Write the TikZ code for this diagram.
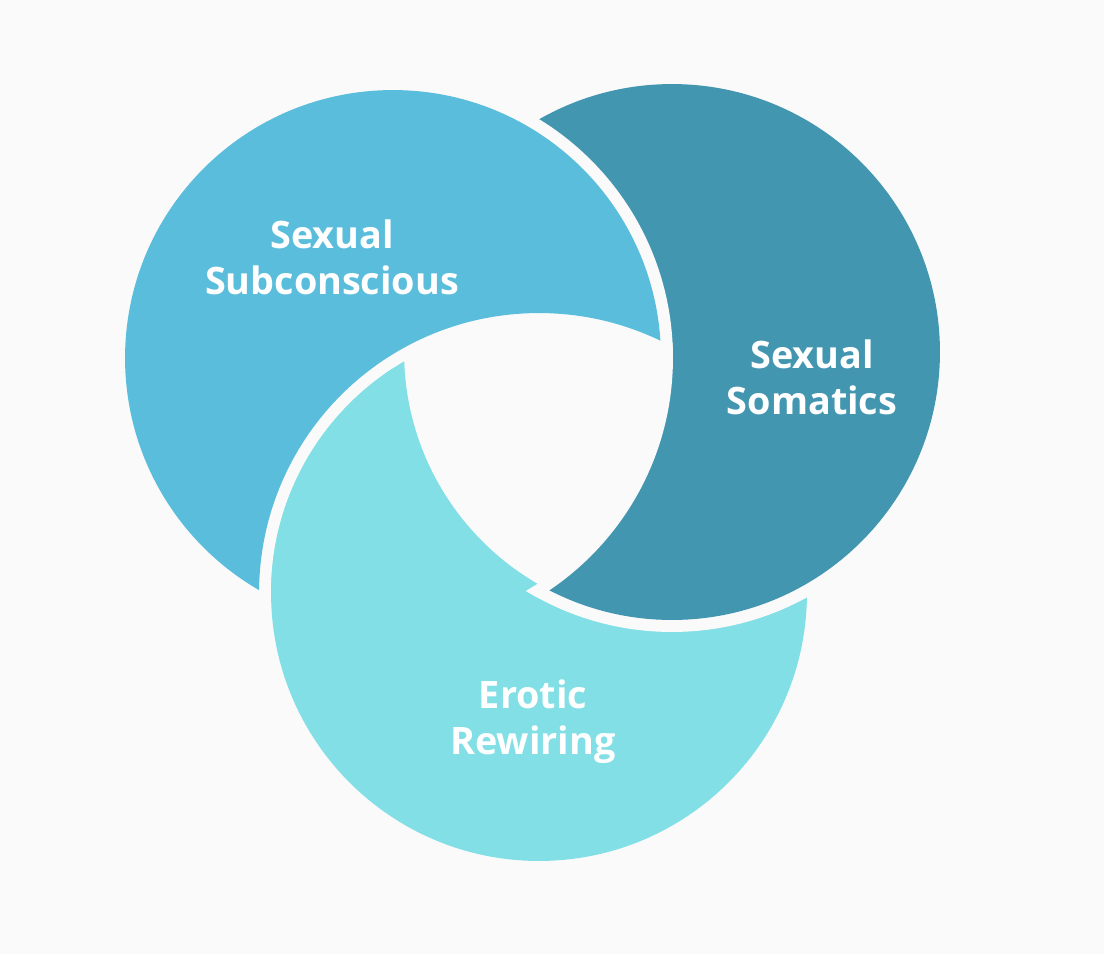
\documentclass[tikz,border=0pt]{standalone}
\usepackage{fontspec}
\setmainfont{Open Sans}
\usetikzlibrary{positioning}
\definecolor{subcblue}{RGB}{90,189,219}
\definecolor{somateal}{RGB}{67,150,176}
\definecolor{erocyan}{RGB}{130,223,229}
\definecolor{paper}{RGB}{250,250,251}

\begin{document}
\begin{tikzpicture}[x=0.02cm,y=-0.02cm]
\tikzstyle{ringtext}=[text=white,font=\bfseries\fontsize{21.5}{26}\selectfont,align=center,inner sep=0pt]
\def\rad{5.36cm}
\def\gap{5.60cm}
\fill[paper] (0,0) rectangle (1104,954);
\useasboundingbox (0,0) rectangle (1104,954);
\coordinate (sub) at (393,358);
\coordinate (som) at (672,352);
\coordinate (ero) at (539,593);
% bottom ring first
\fill[paper] (ero) circle[radius=\gap];
\fill[erocyan] (ero) circle[radius=\rad];
% right ring lies over the bottom one
\begin{scope}[even odd rule]
\clip (0,0) rectangle (1104,954) (sub) circle[radius=\rad];
\fill[paper] (som) circle[radius=\gap];
\end{scope}
\fill[somateal] (som) circle[radius=\rad];
% empty middle
\begin{scope}
\clip (sub) circle[radius=\gap];
\clip (ero) circle[radius=5.66cm];
\fill[paper] (som) circle[radius=\gap];
\end{scope}
\begin{scope}[even odd rule]
\clip (sub) circle[radius=\rad];
\clip (0,0) rectangle (1104,954) (som) circle[radius=\rad];
\fill[erocyan] (ero) circle[radius=\rad];
\end{scope}
% left ring over the right one, under the bottom one
\begin{scope}[even odd rule]
\clip (0,0) rectangle (1104,954) (ero) circle[radius=\gap];
\fill[paper] (sub) circle[radius=\gap];
\fill[subcblue] (sub) circle[radius=\rad];
\end{scope}
\node[ringtext] (subtxt) at (332,257) {Sexual\\Subconscious};
\node[ringtext] (somtxt) at (812,377) {Sexual\\Somatics};
\node[ringtext] (erotxt) at (533,722) {Erotic\\Rewiring};
\end{tikzpicture}
\end{document}
